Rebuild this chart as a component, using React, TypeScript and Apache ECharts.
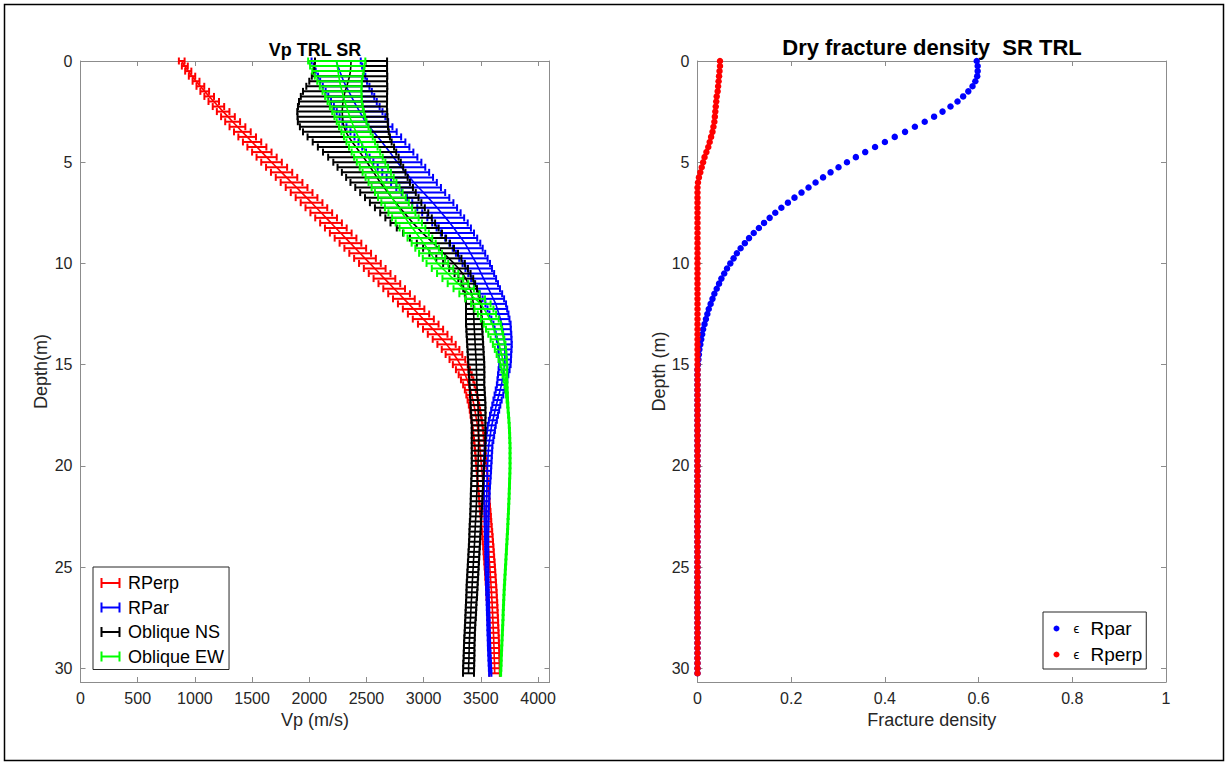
import React, { useEffect, useRef } from 'react';
import * as echarts from 'echarts';

// Depth samples (m): every 0.25 m from the surface down to 30.25 m
const DEPTH_M: number[] = Array.from({ length: 122 }, (_, i) => i * 0.25);

// ---- Vp profiles (m/s) and their half-widths (m/s) ----
const RPERP_VP = [
  885, 912, 942, 975, 1010,
  1048, 1086, 1125, 1165,
  1206, 1247, 1289, 1330,
  1372, 1415, 1457, 1500,
  1542, 1585, 1627, 1670,
  1714, 1758, 1801, 1845,
  1889, 1933, 1976, 2020,
  2062, 2105, 2147, 2190,
  2232, 2275, 2317, 2360,
  2402, 2445, 2487, 2530,
  2572, 2615, 2657, 2700,
  2742, 2785, 2827, 2870,
  2912, 2955, 2997, 3040,
  3082, 3122, 3162, 3200,
  3235, 3265, 3295, 3320,
  3343, 3363, 3380, 3395,
  3408, 3420, 3430, 3440,
  3448, 3455, 3463, 3470,
  3475, 3480, 3485, 3490,
  3494, 3498, 3501, 3505,
  3509, 3513, 3516, 3520,
  3524, 3528, 3531, 3535,
  3539, 3543, 3546, 3550,
  3554, 3558, 3561, 3565,
  3568, 3571, 3575, 3578,
  3581, 3584, 3587, 3590,
  3593, 3595, 3598, 3600,
  3602, 3604, 3606, 3608,
  3610, 3612, 3613, 3615,
  3616, 3617, 3619, 3620,
  3621,
];
const RPERP_ERR = [
  25, 26, 27, 28, 30,
  34, 38, 42, 46,
  50, 55, 60, 65,
  69, 73, 77, 80,
  83, 85, 88, 90,
  92, 93, 94, 95,
  95, 95, 95, 95,
  95, 95, 95, 95,
  95, 95, 95, 95,
  95, 95, 95, 95,
  95, 95, 95, 95,
  95, 95, 95, 95,
  94, 93, 92, 90,
  88, 86, 83, 80,
  77, 73, 69, 65,
  61, 57, 54, 50,
  48, 47, 46, 45,
  45, 45, 45, 45,
  45, 45, 45, 45,
  45, 45, 45, 45,
  45, 45, 45, 45,
  45, 45, 45, 45,
  45, 45, 45, 45,
  45, 45, 45, 45,
  45, 45, 45, 45,
  45, 45, 45, 45,
  45, 45, 45, 45,
  45, 45, 45, 45,
  45, 45, 45, 45,
  45, 45, 45, 45,
  45,
];

const RPAR_VP = [
  2235, 2250, 2266, 2283, 2300,
  2322, 2345, 2367, 2390,
  2415, 2440, 2465, 2490,
  2526, 2562, 2599, 2635,
  2669, 2703, 2736, 2770,
  2806, 2843, 2879, 2915,
  2956, 2998, 3039, 3080,
  3118, 3155, 3193, 3230,
  3263, 3295, 3328, 3360,
  3385, 3410, 3435, 3460,
  3481, 3503, 3524, 3545,
  3566, 3588, 3609, 3630,
  3644, 3658, 3671, 3685,
  3691, 3698, 3704, 3710,
  3710, 3710, 3710, 3710,
  3703, 3695, 3688, 3680,
  3669, 3658, 3646, 3635,
  3625, 3615, 3605, 3595,
  3588, 3582, 3575, 3568,
  3566, 3563, 3561, 3558,
  3557, 3556, 3554, 3553,
  3552, 3552, 3551, 3550,
  3550, 3550, 3550, 3550,
  3550, 3550, 3551, 3551,
  3552, 3552, 3553, 3553,
  3554, 3555, 3556, 3557,
  3558, 3560, 3561, 3562,
  3563, 3565, 3566, 3567,
  3568, 3570, 3571, 3572,
  3574, 3576, 3578, 3580,
  3582,
];
const RPAR_ERR = [
  215, 212, 210, 207, 205,
  204, 202, 201, 200,
  200, 200, 200, 200,
  201, 202, 204, 205,
  206, 207, 209, 210,
  208, 205, 203, 200,
  195, 190, 185, 180,
  174, 168, 161, 155,
  150, 145, 140, 135,
  131, 128, 124, 120,
  116, 113, 109, 105,
  101, 98, 94, 90,
  86, 83, 79, 75,
  71, 68, 64, 60,
  58, 55, 53, 50,
  48, 45, 43, 40,
  39, 38, 36, 35,
  35, 35, 35, 35,
  35, 34, 34, 33,
  33, 33, 33, 33,
  32, 30, 29, 27,
  25, 24, 22, 20,
  19, 18, 17, 16,
  15, 14, 14, 13,
  13, 12, 12, 12,
  12, 11, 11, 11,
  11, 10, 10, 10,
  10, 10, 10, 10,
  10, 10, 10, 10,
  10, 10, 10, 10,
  10,
];

const OBL_NS_VP = [
  2365, 2363, 2360, 2352, 2340,
  2328, 2313, 2303, 2295,
  2290, 2288, 2290, 2293,
  2303, 2320, 2345, 2375,
  2408, 2440, 2473, 2505,
  2534, 2563, 2591, 2620,
  2654, 2688, 2721, 2755,
  2792, 2830, 2868, 2905,
  2948, 2990, 3038, 3085,
  3130, 3175, 3220, 3265,
  3305, 3340, 3368, 3390,
  3406, 3420, 3428, 3435,
  3436, 3437, 3439, 3440,
  3443, 3445, 3448, 3450,
  3453, 3455, 3458, 3460,
  3461, 3463, 3464, 3465,
  3468, 3470, 3473, 3475,
  3476, 3478, 3479, 3480,
  3480, 3480, 3480, 3480,
  3479, 3478, 3476, 3475,
  3473, 3471, 3469, 3467,
  3465, 3463, 3462, 3460,
  3458, 3456, 3453, 3451,
  3449, 3447, 3445, 3443,
  3440, 3438, 3435, 3433,
  3430, 3428, 3425, 3423,
  3421, 3419, 3416, 3414,
  3412, 3410, 3407, 3405,
  3403, 3401, 3399, 3398,
  3397, 3396, 3394, 3393,
  3392,
];
const OBL_NS_ERR = [
  315, 317, 320, 330, 340,
  354, 368, 377, 385,
  389, 393, 393, 393,
  385, 375, 360, 345,
  333, 320, 308, 295,
  287, 278, 269, 260,
  252, 243, 234, 225,
  218, 210, 203, 195,
  183, 170, 158, 145,
  135, 125, 110, 95,
  82, 70, 65, 60,
  60, 60, 62, 65,
  66, 67, 69, 70,
  70, 70, 70, 70,
  70, 70, 70, 70,
  69, 68, 66, 65,
  65, 65, 65, 65,
  64, 63, 61, 60,
  60, 60, 60, 60,
  59, 58, 56, 55,
  54, 53, 53, 52,
  52, 51, 51, 50,
  50, 49, 49, 49,
  49, 48, 48, 48,
  48, 48, 48, 48,
  48, 48, 48, 48,
  47, 47, 46, 46,
  46, 46, 45, 45,
  45, 46, 46, 46,
  47, 47, 48, 48,
  48,
];

const OBL_EW_VP = [
  2240, 2245, 2251, 2258, 2265,
  2275, 2286, 2298, 2310,
  2324, 2339, 2354, 2370,
  2389, 2409, 2429, 2450,
  2472, 2495, 2517, 2540,
  2565, 2590, 2615, 2640,
  2667, 2695, 2722, 2750,
  2780, 2810, 2840, 2870,
  2902, 2935, 2967, 3000,
  3030, 3060, 3090, 3120,
  3165, 3210, 3255, 3300,
  3350, 3400, 3450, 3500,
  3527, 3553, 3578, 3600,
  3615, 3630, 3645, 3660,
  3671, 3681, 3691, 3700,
  3705, 3710, 3715, 3720,
  3724, 3728, 3731, 3735,
  3738, 3742, 3745, 3748,
  3750, 3752, 3753, 3755,
  3755, 3755, 3755, 3755,
  3754, 3753, 3751, 3750,
  3748, 3747, 3745, 3743,
  3741, 3739, 3737, 3735,
  3733, 3730, 3728, 3725,
  3723, 3720, 3718, 3715,
  3713, 3710, 3708, 3705,
  3703, 3701, 3699, 3697,
  3695, 3694, 3692, 3690,
  3688, 3686, 3684, 3682,
  3680, 3678, 3677, 3675,
  3673,
];
const OBL_EW_ERR = [
  250, 238, 225, 210, 195,
  183, 170, 160, 150,
  144, 138, 134, 130,
  129, 128, 126, 125,
  125, 125, 125, 125,
  124, 124, 123, 122,
  122, 121, 121, 120,
  119, 118, 116, 115,
  113, 110, 108, 105,
  103, 100, 98, 95,
  94, 93, 91, 90,
  89, 88, 86, 85,
  83, 80, 78, 75,
  70, 65, 60, 55,
  49, 43, 36, 30,
  25, 20, 16, 12,
  10, 8, 6, 5,
  4, 4, 4, 4,
  4, 4, 4, 4,
  4, 4, 4, 4,
  4, 4, 4, 4,
  4, 4, 4, 4,
  4, 4, 4, 4,
  4, 4, 4, 4,
  4, 4, 4, 4,
  4, 4, 4, 4,
  4, 4, 4, 4,
  4, 4, 4, 4,
  4, 4, 4, 4,
  4, 4, 4, 4,
  4,
];

// ---- Dry fracture density ----
const EPS_RPAR = [
  0.596, 0.598, 0.598, 0.597, 0.593,
  0.587, 0.578, 0.567, 0.555,
  0.540, 0.523, 0.505, 0.485,
  0.464, 0.443, 0.421, 0.400,
  0.379, 0.358, 0.338, 0.319,
  0.301, 0.284, 0.268, 0.252,
  0.237, 0.222, 0.207, 0.193,
  0.179, 0.166, 0.154, 0.142,
  0.131, 0.120, 0.110, 0.101,
  0.092, 0.084, 0.077, 0.070,
  0.063, 0.057, 0.051, 0.046,
  0.041, 0.036, 0.032, 0.028,
  0.024, 0.021, 0.018, 0.015,
  0.012, 0.010, 0.008, 0.006,
  0.004, 0.003, 0.002, 0.001,
  0, 0, 0, 0,
  0, 0, 0, 0,
  0, 0, 0, 0,
  0, 0, 0, 0,
  0, 0, 0, 0,
  0, 0, 0, 0,
  0, 0, 0, 0,
  0, 0, 0, 0,
  0, 0, 0, 0,
  0, 0, 0, 0,
  0, 0, 0, 0,
  0, 0, 0, 0,
  0, 0, 0, 0,
  0, 0, 0, 0,
  0, 0, 0, 0,
  0,
];
const EPS_RPERP = [
  0.048, 0.048, 0.047, 0.046, 0.045,
  0.044, 0.043, 0.041, 0.040,
  0.039, 0.038, 0.037, 0.036,
  0.034, 0.032, 0.029, 0.026,
  0.023, 0.019, 0.015, 0.012,
  0.009, 0.006, 0.003, 0.001,
  0, 0, 0, 0,
  0, 0, 0, 0,
  0, 0, 0, 0,
  0, 0, 0, 0,
  0, 0, 0, 0,
  0, 0, 0, 0,
  0, 0, 0, 0,
  0, 0, 0, 0,
  0, 0, 0, 0,
  0, 0, 0, 0,
  0, 0, 0, 0,
  0, 0, 0, 0,
  0, 0, 0, 0,
  0, 0, 0, 0,
  0, 0, 0, 0,
  0, 0, 0, 0,
  0, 0, 0, 0,
  0, 0, 0, 0,
  0, 0, 0, 0,
  0, 0, 0, 0,
  0, 0, 0, 0,
  0, 0, 0, 0,
  0, 0, 0, 0,
  0, 0, 0, 0,
  0,
];

// ---- axis ranges and ticks ----
const DEPTH_MAX = 30.68;
const DEPTH_TICK = 5;
const VP_MAX = 4100;
const VP_TICK = 500;
const FRAC_MAX = 1;
const FRAC_TICK = 0.2;

const FONT = '"Liberation Sans", Arial, Helvetica, sans-serif';
const AXIS_GREY = '#8c8c8c';
const TICK_TEXT = '#262626';

const VP_SERIES = [
  { name: 'RPerp', color: '#ff0000', vp: RPERP_VP, err: RPERP_ERR },
  { name: 'RPar', color: '#0000ff', vp: RPAR_VP, err: RPAR_ERR },
  { name: 'Oblique NS', color: '#000000', vp: OBL_NS_VP, err: OBL_NS_ERR },
  { name: 'Oblique EW', color: '#00ff00', vp: OBL_EW_VP, err: OBL_EW_ERR },
];

const DENSITY_SERIES = [
  { name: 'ϵ Rpar', color: '#0000ff', values: EPS_RPAR },
  { name: 'ϵ Rperp', color: '#ff0000', values: EPS_RPERP },
];

// horizontal bar with an end cap on each side
const ERRBAR_ICON = 'path://M0,0H2V4H18V0H20V10H18V6H2V10H0Z';

function errorBarRenderer(color: string) {
  return (_params: any, api: any) => {
    const vp = api.value(0);
    const depth = api.value(1);
    const err = api.value(2);
    const a = api.coord([vp - err, depth]);
    const b = api.coord([vp + err, depth]);
    const cap = 3.5;
    const style = { stroke: color, lineWidth: 2, fill: null };
    return {
      type: 'group',
      children: [
        { type: 'line', shape: { x1: a[0], y1: a[1], x2: b[0], y2: b[1] }, style },
        { type: 'line', shape: { x1: a[0], y1: a[1] - cap, x2: a[0], y2: a[1] + cap }, style },
        { type: 'line', shape: { x1: b[0], y1: b[1] - cap, x2: b[0], y2: b[1] + cap }, style },
      ],
    };
  };
}

const onStep = (v: number, step: number) => Math.abs(v / step - Math.round(v / step)) < 1e-6;

function baseAxis(extra: any) {
  return {
    type: 'value',
    axisLine: { show: true, onZero: false, lineStyle: { color: AXIS_GREY, width: 1 } },
    axisTick: { show: true, inside: true, length: 5, lineStyle: { color: AXIS_GREY, width: 1 } },
    splitLine: { show: false },
    nameTextStyle: { color: TICK_TEXT, fontSize: 18, fontFamily: FONT },
    ...extra,
  };
}

function xAxisFor(gridIndex: number, position: 'bottom' | 'top', max: number, step: number, name?: string) {
  return baseAxis({
    gridIndex,
    position,
    min: 0,
    max,
    interval: step,
    name: name || '',
    nameLocation: 'middle',
    nameGap: 27,
    axisLabel: {
      show: !!name,
      color: TICK_TEXT,
      fontSize: 16,
      fontFamily: FONT,
      margin: 8,
      formatter: (v: number) => (onStep(v, step) ? String(+(Math.round(v / step) * step).toFixed(1)) : ''),
    },
  });
}

function depthAxisFor(gridIndex: number, position: 'left' | 'right', name?: string, gap = 36) {
  return baseAxis({
    gridIndex,
    position,
    inverse: true,
    min: 0,
    max: DEPTH_MAX,
    interval: DEPTH_TICK,
    name: name || '',
    nameLocation: 'middle',
    nameGap: gap,
    axisLabel: {
      show: !!name,
      color: TICK_TEXT,
      fontSize: 16,
      fontFamily: FONT,
      margin: 8,
      formatter: (v: number) => (onStep(v, DEPTH_TICK) ? String(Math.round(v)) : ''),
    },
  });
}

function buildOption() {
  const series: any[] = [];
  VP_SERIES.forEach((s, k) => {
    const z = 2 + k;
    series.push({
      type: 'custom',
      name: s.name,
      xAxisIndex: 0,
      yAxisIndex: 0,
      z,
      itemStyle: { color: s.color },
      dimensions: ['vp', 'depth', 'err'],
      encode: { x: 0, y: 1 },
      data: s.vp.map((v, i) => [v, DEPTH_M[i], s.err[i]]),
      renderItem: errorBarRenderer(s.color),
      silent: true,
    });
    series.push({
      type: 'line',
      name: s.name + ' trend',
      xAxisIndex: 0,
      yAxisIndex: 0,
      z,
      symbol: 'none',
      showSymbol: false,
      lineStyle: { color: s.color, width: 1.6 },
      data: s.vp.map((v, i) => [v, DEPTH_M[i]]),
      silent: true,
    });
  });
  DENSITY_SERIES.forEach((s, k) => {
    series.push({
      type: 'scatter',
      name: s.name,
      xAxisIndex: 2,
      yAxisIndex: 2,
      z: 3 + k,
      symbol: 'circle',
      symbolSize: 6.5,
      itemStyle: { color: s.color, opacity: 1 },
      data: s.values.map((v, i) => [v, DEPTH_M[i]]),
      silent: true,
    });
  });

  return {
    animation: false,
    backgroundColor: '#ffffff',
    grid: [
      { left: 80.5, top: 61, width: 469, height: 621 },
      { left: 697.5, top: 61, width: 468.5, height: 621 },
    ],
    xAxis: [
      xAxisFor(0, 'bottom', VP_MAX, VP_TICK, 'Vp (m/s)'),
      xAxisFor(0, 'top', VP_MAX, VP_TICK),
      xAxisFor(1, 'bottom', FRAC_MAX, FRAC_TICK, 'Fracture density'),
      xAxisFor(1, 'top', FRAC_MAX, FRAC_TICK),
    ],
    yAxis: [
      depthAxisFor(0, 'left', 'Depth(m)', 31),
      depthAxisFor(0, 'right'),
      depthAxisFor(1, 'left', 'Depth (m)', 30),
      depthAxisFor(1, 'right'),
    ],
    legend: [
      {
        orient: 'vertical',
        left: 93,
        top: 567,
        z: 10,
        selectedMode: false,
        data: VP_SERIES.map((s) => ({ name: s.name, icon: ERRBAR_ICON })),
        itemWidth: 25,
        itemHeight: 10,
        itemGap: 6.5,
        padding: [7, 5, 4, 7.5],
        backgroundColor: '#ffffff',
        borderColor: '#262626',
        borderWidth: 1,
        borderRadius: 0,
        textStyle: { fontSize: 18, color: '#000', fontFamily: FONT },
      },
      {
        orient: 'vertical',
        left: 1043,
        top: 612,
        z: 10,
        selectedMode: false,
        data: DENSITY_SERIES.map((s) => ({ name: s.name, icon: 'circle' })),
        itemWidth: 16,
        itemHeight: 6,
        itemGap: 7,
        padding: [7, 4, 5, 10.5],
        backgroundColor: '#ffffff',
        borderColor: '#262626',
        borderWidth: 1,
        borderRadius: 0,
        formatter: (name: string) => `{eps|ϵ} {txt|${name.replace('ϵ ', '')}}`,
        textStyle: {
          color: '#000',
          fontFamily: FONT,
          fontSize: 19,
          rich: {
            eps: { fontSize: 13, fontFamily: FONT, color: '#000', padding: [0, 6, 0, 4] },
            txt: { fontSize: 19, fontFamily: FONT, color: '#000' },
          },
        },
      },
    ],
    graphic: [
      {
        type: 'rect',
        silent: true,
        shape: { x: 4.5, y: 4.5, width: 1219, height: 756 },
        style: { fill: 'none', stroke: '#000', lineWidth: 1.5 },
      },
      {
        type: 'text',
        silent: true,
        x: 315,
        y: 50,
        style: {
          text: 'Vp TRL SR',
          fill: '#000',
          fontSize: 18,
          fontWeight: 'bold',
          fontFamily: FONT,
          textAlign: 'center',
          textVerticalAlign: 'middle',
        },
      },
      {
        type: 'text',
        silent: true,
        x: 932,
        y: 47,
        style: {
          text: 'Dry fracture density  SR TRL',
          fill: '#000',
          fontSize: 22,
          fontWeight: 'bold',
          fontFamily: FONT,
          textAlign: 'center',
          textVerticalAlign: 'middle',
        },
      },
    ],
    series,
  };
}

export default function App() {
  const ref = useRef<HTMLDivElement>(null);
  useEffect(() => {
    document.body.style.margin = '0';
    const chart = echarts.init(ref.current as HTMLDivElement, null, { renderer: 'svg' });
    chart.setOption(buildOption() as any);
    return () => chart.dispose();
  }, []);
  return <div ref={ref} style={{ width: 1228, height: 765, background: '#ffffff' }} />;
}
